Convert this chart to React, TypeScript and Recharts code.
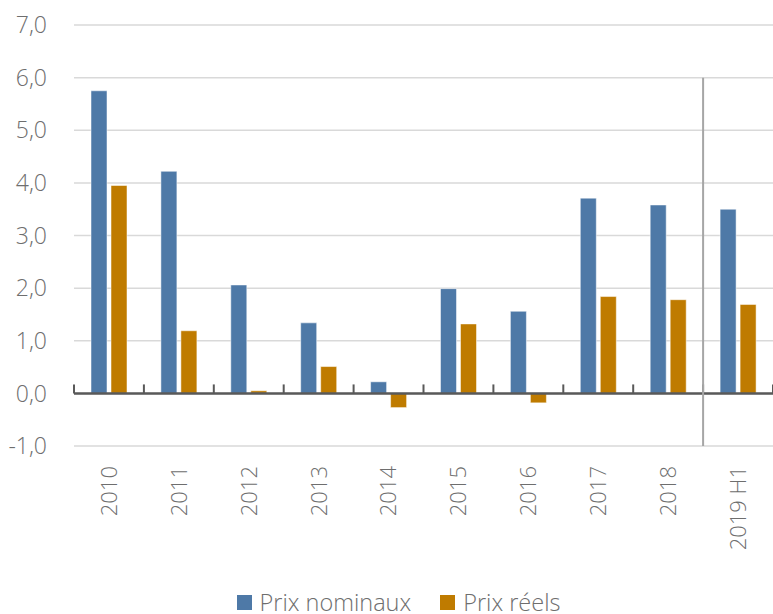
import { BarChart, Bar, XAxis, YAxis, CartesianGrid, ReferenceLine, Legend } from 'recharts';

const categories = ['2010', '2011', '2012', '2013', '2014', '2015', '2016', '2017', '2018', '2019 H1'];
const nominal = [5.75, 4.22, 2.06, 1.34, 0.22, 1.99, 1.56, 3.71, 3.58, 3.5];
const real = [3.95, 1.19, 0.05, 0.51, -0.27, 1.32, -0.18, 1.84, 1.78, 1.69];
const yTicks = [-1, 0, 1, 2, 3, 4, 5, 6, 7];
const splitCategory = '2019 H1';

const BLUE = '#4e79a7';
const ORANGE = '#bf7b00';
const TEXT = '#6e6e6e';
const FONT = '"Open Sans", sans-serif';

const data = categories.map((name, i) => ({ name, nominal: nominal[i], real: real[i] }));

const fmt = (v: number) => v.toFixed(1).replace('.', ',');

function XTick({ x, y, payload }: any) {
  const ty = y + 18;
  return (
    <text
      x={x}
      y={ty}
      dy="0.36em"
      transform={`rotate(-90, ${x}, ${ty})`}
      textAnchor="end"
      fill={TEXT}
      fontSize={22}
      fontWeight={300}
      fontFamily={FONT}
    >
      {payload.value}
    </text>
  );
}

function LegendBox() {
  const items = [
    { label: 'Prix nominaux', color: BLUE },
    { label: 'Prix réels', color: ORANGE },
  ];
  return (
    <div style={{ display: 'flex', justifyContent: 'center', alignItems: 'center', paddingLeft: 24, fontFamily: FONT, fontWeight: 300, fontSize: 23.5, color: TEXT, height: 22 }}>
      {items.map((it, i) => (
        <div key={it.label} style={{ display: 'flex', alignItems: 'center', marginLeft: i ? 29 : 0 }}>
          <span style={{ width: 15, height: 15, background: it.color, display: 'inline-block', marginRight: 8 }} />
          <span style={{ lineHeight: '22px' }}>{it.label}</span>
        </div>
      ))}
    </div>
  );
}

export default function App() {
  return (
    <div style={{ position: 'absolute', left: 0, top: 0, width: 773, height: 614, background: '#fff' }}>
      <BarChart
        width={773}
        height={614}
        data={data}
        margin={{ top: 25, right: 0, left: 0, bottom: 46 }}
        barSize={16}
        barGap={4}
      >
        <CartesianGrid horizontal vertical={false} stroke="#d9d9d9" strokeWidth={1.5} />
        <XAxis
          dataKey="name"
          axisLine={false}
          tickLine={false}
          tickSize={0}
          height={100}
          interval={0}
          tick={<XTick />}
        />
        <YAxis
          domain={[-1, 7]}
          ticks={yTicks}
          width={74}
          axisLine={false}
          tickLine={false}
          tickSize={0}
          tickMargin={27}
          tickFormatter={fmt}
          tick={{ fill: TEXT, fontSize: 23, fontWeight: 300, fontFamily: FONT }}
        />
        <Bar dataKey="nominal" fill={BLUE} stroke="rgba(255,255,255,0.5)" isAnimationActive={false} />
        <Bar dataKey="real" fill={ORANGE} stroke="rgba(255,255,255,0.5)" isAnimationActive={false} />
        <ReferenceLine y={0} stroke="#595959" strokeWidth={2.5} />
        {categories.map((c) => (
          <ReferenceLine
            key={c}
            position="start"
            segment={[{ x: c, y: 0 }, { x: c, y: 0.17 }]}
            stroke="#595959"
            strokeWidth={2}
          />
        ))}
        <ReferenceLine
          position="end"
          segment={[{ x: categories[categories.length - 1], y: 0 }, { x: categories[categories.length - 1], y: 0.17 }]}
          stroke="#595959"
          strokeWidth={2}
        />
        <ReferenceLine
          position="start"
          segment={[{ x: splitCategory, y: -1 }, { x: splitCategory, y: 6 }]}
          stroke="#a6a6a6"
          strokeWidth={2}
        />
        <Legend content={<LegendBox />} wrapperStyle={{ top: 591, left: 0, width: 773 }} />
      </BarChart>
    </div>
  );
}
